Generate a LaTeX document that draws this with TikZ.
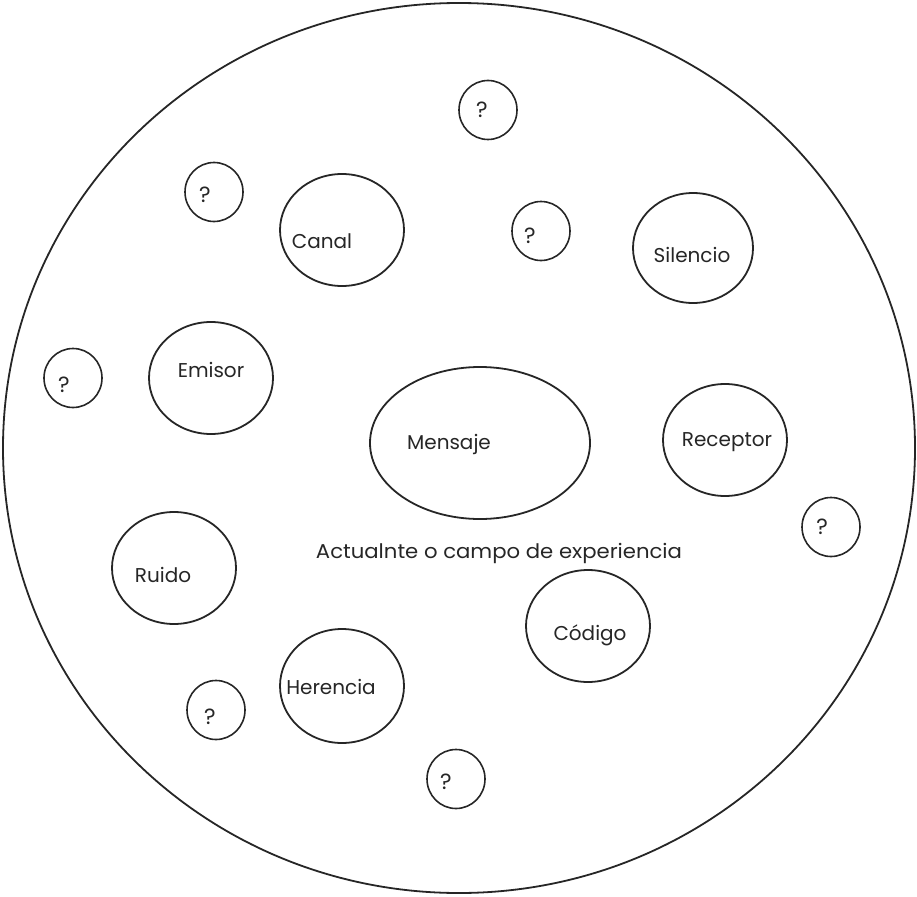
\documentclass[tikz,border=0pt]{standalone}
\usepackage{fontspec}
\setmainfont{Poppins}
\newfontfamily\widefont[FakeStretch=1.06]{Poppins}
\usetikzlibrary{shapes.geometric}
\begin{document}
\begin{tikzpicture}[x=1pt,y=-1pt,
  bubble/.style={draw=black!85,line width=1.8pt,ellipse,minimum width=124pt,minimum height=112pt,inner sep=0pt},
  query/.style={draw=black!85,line width=1.6pt,ellipse,minimum width=58pt,minimum height=59pt,inner sep=0pt},
  lbl/.style={font=\fontsize{20}{24}\selectfont,text=black!85,inner sep=0pt,anchor=base},
  qlbl/.style={font=\fontsize{22}{26}\selectfont,text=black!85,inner sep=0pt,anchor=base}]
\useasboundingbox (0,0) rectangle (917,896);
% outer field of experience
\draw[black!85,line width=1.8pt] (459,448) ellipse [x radius=456, y radius=445];

% named concept bubbles
\node[bubble] (canal) at (342,230) {};
\node[bubble,minimum width=120pt,minimum height=110pt] (silencio) at (693,248) {};
\node[bubble] (emisor) at (211,378) {};
\node[bubble,minimum width=220pt,minimum height=152pt] (mensaje) at (480,443) {};
\node[bubble] (receptor) at (725,440) {};
\node[bubble] (ruido) at (174,568) {};
\node[bubble] (codigo) at (588,626) {};
\node[bubble,minimum height=114pt] (herencia) at (342,686) {};

\node[lbl] (tcanal) at (322,248) {Canal};
\node[lbl] (tsilencio) at (692,262) {Silencio};
\node[lbl] (temisor) at (211,377) {Emisor};
\node[lbl] (tmensaje) at (449,449) {Mensaje};
\node[lbl] (treceptor) at (727,446) {Receptor};
\node[lbl] (truido) at (163,582) {Ruido};
\node[lbl] (tcodigo) at (590,640) {Código};
\node[lbl] (therencia) at (331,694) {Herencia};

% unknown elements
\node[query] (q1) at (488,110) {};
\node[query] (q2) at (214,192) {};
\node[query] (q3) at (541,231) {};
\node[query] (q4) at (73,378) {};
\node[query] (q5) at (831,527) {};
\node[query] (q6) at (216,710) {};
\node[query] (q7) at (456,779) {};
\node[qlbl] (tq1) at (482,118) {?};
\node[qlbl] (tq2) at (205,202) {?};
\node[qlbl] (tq3) at (530,243) {?};
\node[qlbl] (tq4) at (64,392) {?};
\node[qlbl] (tq5) at (822,534) {?};
\node[qlbl] (tq6) at (210,724) {?};
\node[qlbl] (tq7) at (446,789) {?};

% caption of the field
\node[lbl,font=\widefont\fontsize{20}{24}\selectfont] (campo) at (499,558) {Actualnte o campo de experiencia};
\end{tikzpicture}
\end{document}
